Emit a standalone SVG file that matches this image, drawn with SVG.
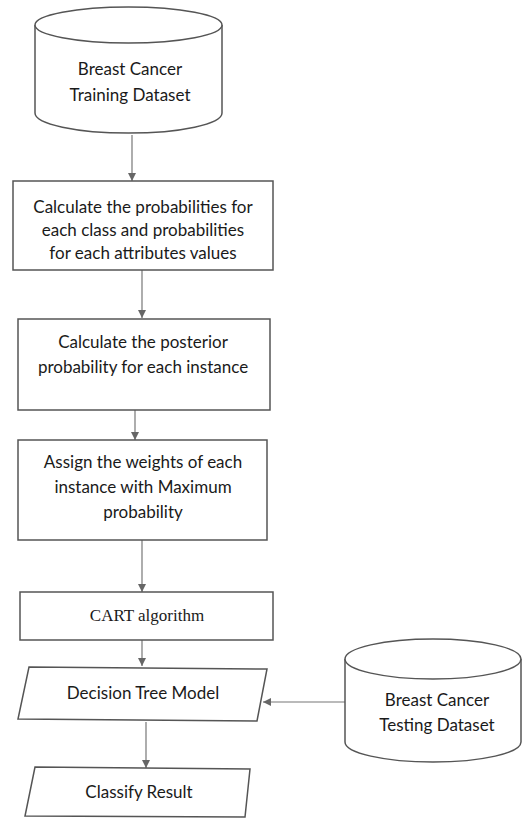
<svg xmlns="http://www.w3.org/2000/svg" width="522" height="818" viewBox="0 0 522 818">
<style>
.s{fill:#fff;stroke:#555;stroke-width:1.5}
.t{font-family:Lato,"Liberation Sans",sans-serif;font-size:17px;fill:#1a1a1a;text-anchor:middle}
.ts{font-family:"Liberation Serif",serif;font-size:17px;fill:#1a1a1a;text-anchor:middle}
.c{stroke:#777;stroke-width:1.2;fill:none;marker-end:url(#ah)}
</style>
<defs>
<marker id="ah" viewBox="0 0 10 10" refX="10" refY="5" markerWidth="8" markerHeight="8" markerUnits="userSpaceOnUse" orient="auto">
<path d="M0,0 L10,5 L0,10 z" fill="#666"/>
</marker>
</defs>
<rect width="522" height="818" fill="#fff"/>
<g id="connectors">
<line class="c" x1="132" y1="135" x2="132" y2="181"/>
<line class="c" x1="142" y1="270" x2="142" y2="318"/>
<line class="c" x1="135" y1="410" x2="135" y2="440"/>
<line class="c" x1="142" y1="540" x2="142" y2="592"/>
<line class="c" x1="142" y1="640" x2="142" y2="666"/>
<line class="c" x1="345" y1="702" x2="263" y2="702"/>
<line class="c" x1="146" y1="722" x2="146" y2="768"/>
</g>
<g id="training">
<path class="s" d="M35,25 L35,113 A93.5,20 0 0 0 222,113 L222,25 A93.5,18 0 0 0 35,25 Z"/>
<path class="s" fill="none" d="M35,25 A93.5,18 0 0 0 222,25"/>
<text class="t" x="130" y="75">Breast Cancer</text>
<text class="t" x="130" y="101">Training Dataset</text>
</g>
<g id="step1">
<rect class="s" x="13" y="181" width="260" height="89"/>
<text class="t" x="143" y="213">Calculate the probabilities for</text>
<text class="t" x="143" y="236">each class and probabilities</text>
<text class="t" x="143" y="259">for each attributes values</text>
</g>
<g id="step2">
<rect class="s" x="18" y="319" width="252" height="91"/>
<text class="t" x="143" y="348">Calculate the posterior</text>
<text class="t" x="143" y="373">probability for each instance</text>
</g>
<g id="step3">
<rect class="s" x="18" y="440" width="249" height="100"/>
<text class="t" x="143" y="468">Assign the weights of each</text>
<text class="t" x="143" y="493">instance with Maximum</text>
<text class="t" x="143" y="518">probability</text>
</g>
<g id="cart">
<rect class="s" x="20" y="592" width="253" height="48"/>
<text class="ts" x="147" y="621">CART algorithm</text>
</g>
<g id="model">
<polygon class="s" points="29,667 267,669 257,721 18,719"/>
<text class="t" x="143" y="699">Decision Tree Model</text>
</g>
<g id="testing">
<path class="s" d="M345,659 L345,742 A88,20 0 0 0 521,742 L521,659 A88,20 0 0 0 345,659 Z"/>
<path class="s" fill="none" d="M345,659 A88,20 0 0 0 521,659"/>
<text class="t" x="437" y="706">Breast Cancer</text>
<text class="t" x="437" y="731">Testing Dataset</text>
</g>
<g id="result">
<polygon class="s" points="35,767 250,769 245,817 25,816"/>
<text class="t" x="139" y="798">Classify Result</text>
</g>
</svg>
